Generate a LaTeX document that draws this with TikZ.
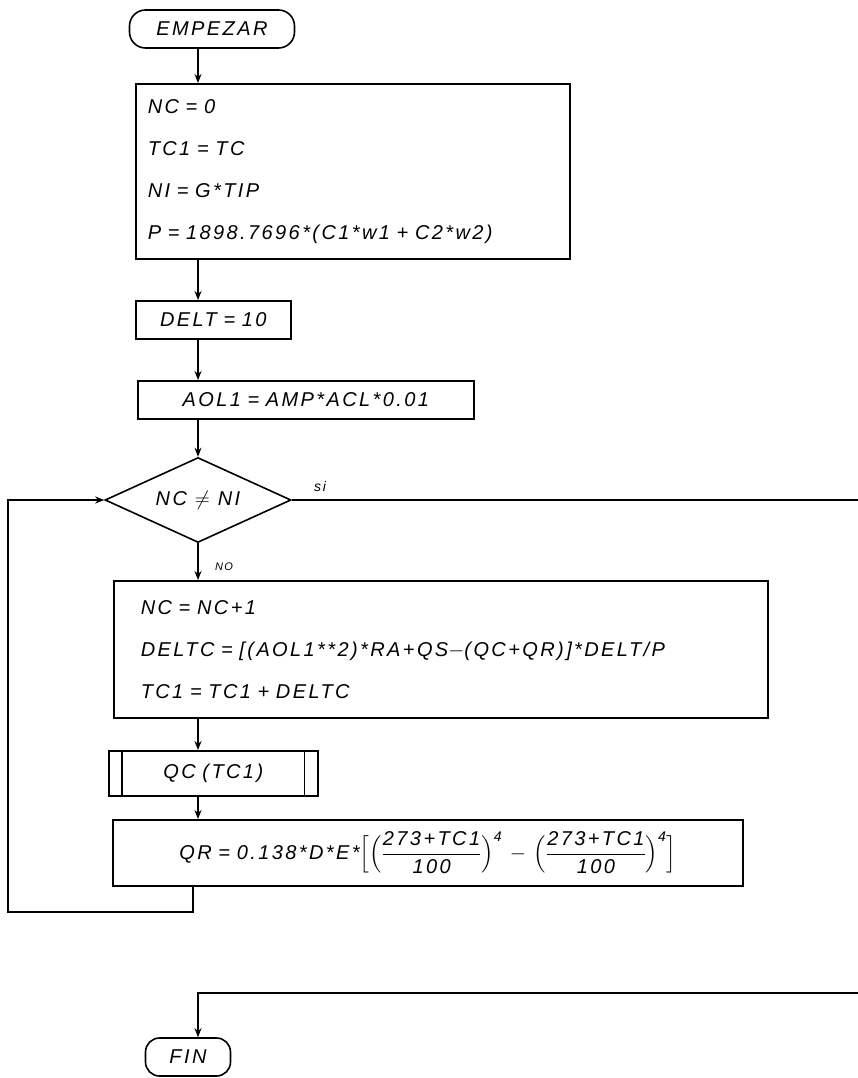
\documentclass[tikz,border=0pt]{standalone}
\usepackage{amsmath}
\usepackage{fontspec}
\setmainfont{Liberation Sans}
\newfontfamily\handfont[LetterSpace=12.0]{Liberation Sans}
\usetikzlibrary{arrows.meta,positioning,shapes.geometric}

\begin{document}
\begin{tikzpicture}[x=1pt, y=-1pt,
  font=\handfont\itshape\fontsize{20}{42}\selectfont,
  proc/.style={draw, line width=1.6pt, inner xsep=12pt, inner ysep=0pt, anchor=north west, align=left},
  term/.style={draw, line width=1.6pt, rounded corners=16pt, inner sep=0pt, minimum height=38pt},
  dec/.style={draw, diamond, line width=1.6pt, inner sep=-9pt, aspect=2.2, minimum width=186pt, minimum height=85pt},
  ln/.style={line width=1.6pt},
  arr/.style={-{Stealth[length=9pt,width=7pt]}, line width=1.6pt},
  lbl/.style={font=\handfont\itshape\fontsize{14}{16}\selectfont},
]
\useasboundingbox (0,0) rectangle (858,1078);
\coordinate (fl) at (198,0);

\node[term, minimum width=165pt] (start) at (212,29) {EMPEZAR};
\node[proc, text width=410pt, minimum height=175pt] (init) at (135,83)
  {NC = 0\\TC1 = TC\\NI = G*TIP\\P = 1898.7696*(C1*w1 + C2*w2)};
\node[proc, align=center, text width=131pt, minimum height=38pt] (delt) at (135,300) {DELT = 10};
\node[proc, align=center, text width=312pt, minimum height=38pt] (aol) at (137,380) {AOL1 = AMP*ACL*0.01};
\node[dec] (test) at (198,500) {NC $\neq$ NI};
\node[proc, inner xsep=27pt, text width=600pt, minimum height=137pt] (step) at (113,580)
  {NC = NC+1\\DELTC = [(AOL1**2)*RA+QS$-$(QC+QR)]*DELT/P\\TC1 = TC1 + DELTC};
\node[proc, align=center, text width=185pt, minimum height=45pt] (qc) at (108,750) {QC (TC1)};
\node[proc, align=center, text width=606pt, minimum height=66pt] (qr) at (112,819)
  {QR = 0.138*D*E*$\Bigl[\Bigl(\dfrac{\text{273+TC1}}{\text{100}}\Bigr)^{\text{4}}-\Bigl(\dfrac{\text{273+TC1}}{\text{100}}\Bigr)^{\text{4}}\Bigr]$};
\node[term, minimum width=85pt, rounded corners=14pt] (fin) at (188,1057) {FIN};

\node[lbl] (si) at (320,486) {si};
\node[lbl, font=\handfont\itshape\fontsize{11}{13}\selectfont] (no) at (224,567) {NO};

% subprogram bars
\draw[ln] ([xshift=14pt]qc.north west) -- ([xshift=14pt]qc.south west);
\draw[ln] ([xshift=-14pt]qc.north east) -- ([xshift=-14pt]qc.south east);

% main flow
\draw[arr] (start.south -| fl) -- (init.north -| fl);
\draw[arr] (init.south -| fl) -- (delt.north -| fl);
\draw[arr] (delt.south -| fl) -- (aol.north -| fl);
\draw[arr] (aol.south -| fl) -- (test.north);
\draw[arr] (test.south) -- (step.north -| fl);
\draw[arr] (step.south -| fl) -- (qc.north -| fl);
\draw[arr] (qc.south -| fl) -- (qr.north -| fl);

% loop back
\coordinate (back) at (193,912);
\coordinate (edge) at (8,912);
\draw[arr] (qr.south -| back) -- (back) -- (edge) |- (test.west);

% exit
\coordinate (siend) at (858,500);
\coordinate (finend) at (858,993);
\draw[ln] (test.east) -- (siend);
\draw[arr] (finend) -- (finend -| fl) -- (fin.north -| fl);
\end{tikzpicture}
\end{document}
